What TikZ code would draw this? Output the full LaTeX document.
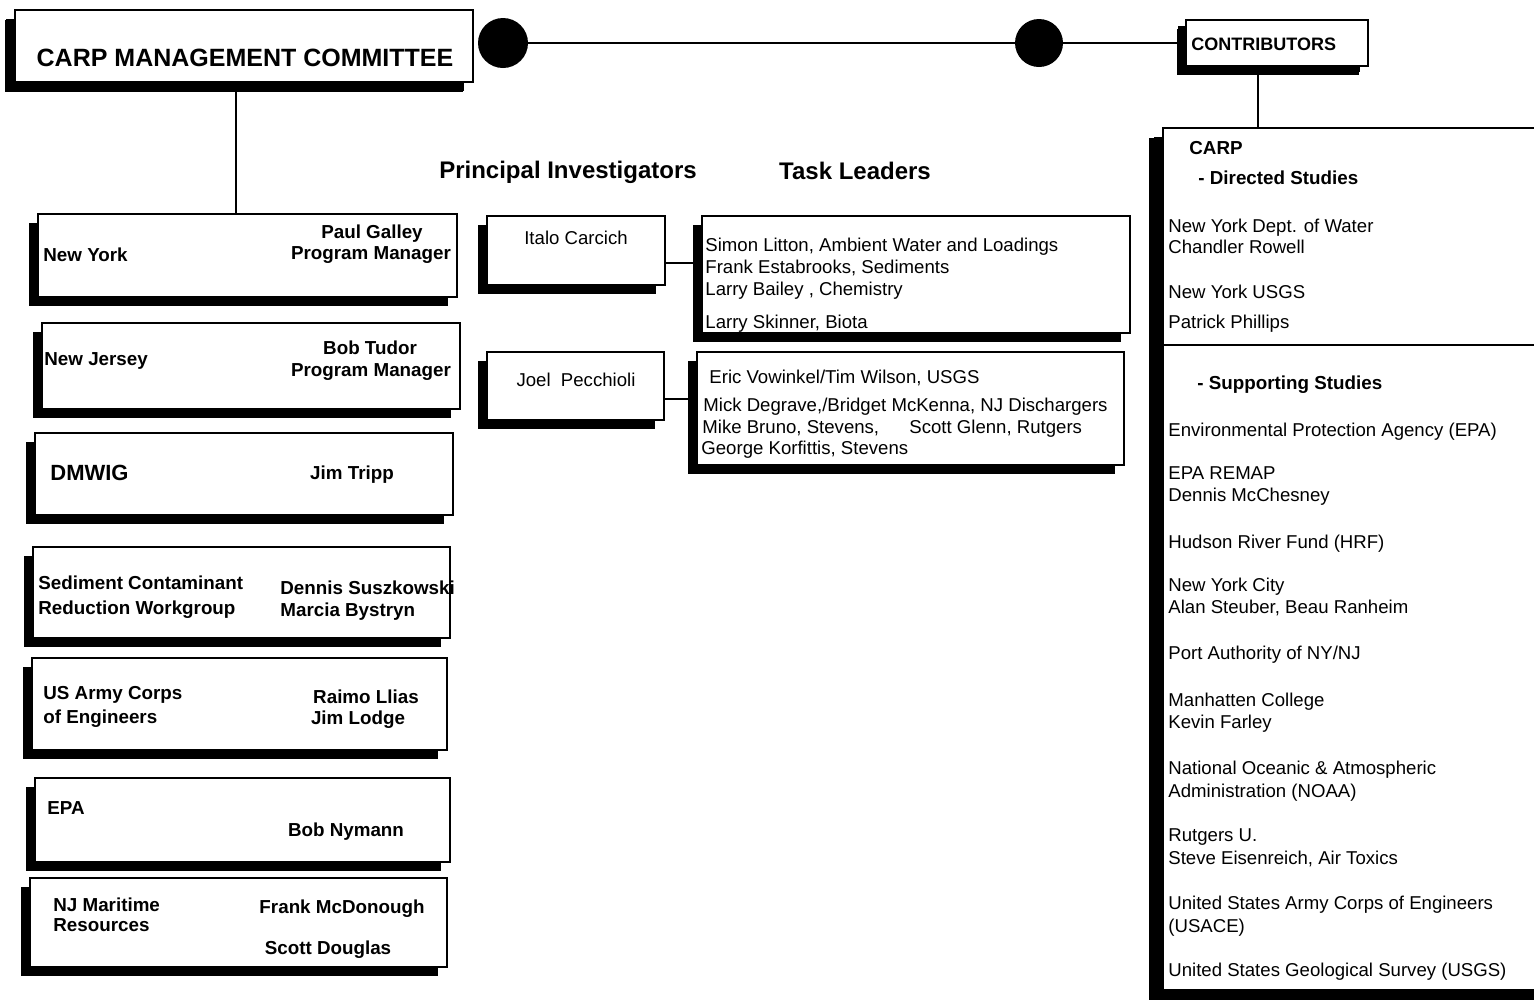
\documentclass[tikz,border=0pt]{standalone}
\usepackage{fontspec}
\setmainfont{Liberation Sans}
\usetikzlibrary{shapes,positioning,calc,shadows}

\begin{document}
\begin{tikzpicture}[x=0.5pt,y=-0.5pt,
  box/.style={draw,line width=0.8pt,fill=white,inner sep=0pt,
    drop shadow={shadow xshift=-4.5pt,shadow yshift=-4.5pt,fill=black,opacity=1}},
  txt/.style={inner sep=0pt,text height=6.7pt,text depth=0pt,font=\fontsize{9.3}{11}\selectfont},
  bt/.style={txt,font=\fontsize{9.4}{11}\selectfont\bfseries},
  hd/.style={inner sep=0pt,text height=8.6pt,text depth=0pt,font=\fontsize{12}{14}\selectfont\bfseries},
  dot/.style={circle,fill=black,inner sep=0pt},
  link/.style={line width=1pt}]
\clip (0,0) rectangle (1534,1003);
\fill[white] (0,0) rectangle (1534,1003);

% Top row: committee, contributors and the link between them
\node[box,minimum width=229pt,minimum height=36pt,
  drop shadow={shadow xshift=-5pt,shadow yshift=-5pt,fill=black,opacity=1}] (cmc) at (244,46) {};
\node[inner sep=0pt,text height=9pt,text depth=0pt,font=\fontsize{12.5}{15}\selectfont\bfseries] (cmcT) at (245,57) {CARP MANAGEMENT COMMITTEE};
\node[dot,minimum size=25pt] (c1) at (503,43) {};
\node[dot,minimum size=24pt] (c2) at (1039,43) {};
\node[box,minimum width=91pt,minimum height=23pt,
  drop shadow={shadow xshift=-4pt,shadow yshift=-3pt,fill=black,opacity=1}] (co) at (1277,43) {};
\node[txt,font=\fontsize{9}{11}\selectfont\bfseries,anchor=west] (coT) at (1191,44) {CONTRIBUTORS};
\draw[link] (c1) -- (c2) -- (co);

% Column headings
\node[hd] (hPI) at (568,170) {Principal Investigators};
\node[hd] (hTL) at (855,171) {Task Leaders};

% Left column: member agencies
\node[box,minimum width=209.5pt,minimum height=41.5pt] (ny) at (247.5,255.5) {};
\node[box,minimum width=209pt,minimum height=43pt] (nj) at (251,366) {};
\node[box,minimum width=209pt,minimum height=41pt] (dm) at (244,474) {};
\node[box,minimum width=208.5pt,minimum height=45.5pt] (sc) at (241.5,592.5) {};
\node[box,minimum width=207.5pt,minimum height=46pt] (us) at (239.5,704) {};
\node[box,minimum width=207.5pt,minimum height=42pt] (ep) at (242.5,820) {};
\node[box,minimum width=208.5pt,minimum height=44.5pt] (nm) at (238.5,922.5) {};
\draw[link] ([xshift=-4pt]cmc.south) -- ([xshift=-4pt]cmc.south |- ny.north);

\node[bt,anchor=west] (nyA) at (43,255) {New York};
\node[bt] (nyB) at (372,232) {Paul Galley};
\node[bt] (nyC) at (371,253) {Program Manager};
\node[bt,anchor=west] (njA) at (44,359) {New Jersey};
\node[bt] (njB) at (370,348) {Bob Tudor};
\node[bt] (njC) at (371,370) {Program Manager};
\node[bt,font=\fontsize{11}{13}\selectfont\bfseries,text height=7.9pt,anchor=west] (dmA) at (50,473) {DMWIG};
\node[bt] (dmB) at (352,473) {Jim Tripp};
\node[bt,anchor=west] (scA) at (38,583) {Sediment Contaminant};
\node[bt,anchor=west] (scB) at (38,608) {Reduction Workgroup};
\node[bt,anchor=west] (scC) at (280,588) {Dennis Suszkowski};
\node[bt,anchor=west] (scD) at (280,610) {Marcia Bystryn};
\node[bt,anchor=west] (usA) at (43,693) {US Army Corps};
\node[bt,anchor=west] (usB) at (43,717) {of Engineers};
\node[bt] (usC) at (366,697) {Raimo Llias};
\node[bt] (usD) at (358,718) {Jim Lodge};
\node[bt,anchor=west] (epA) at (47,808) {EPA};
\node[bt] (epB) at (346,830) {Bob Nymann};
\node[bt,anchor=west] (nmA) at (53,905) {NJ Maritime};
\node[bt,anchor=west] (nmB) at (53,925) {Resources};
\node[bt] (nmC) at (342,907) {Frank McDonough};
\node[bt] (nmD) at (328,948) {Scott Douglas};

% Middle: principal investigators and their task leaders
\node[box,minimum width=89pt,minimum height=34.5pt] (ic) at (576,250.5) {};
\node[box,minimum width=88.5pt,minimum height=34pt] (jp) at (575.5,386) {};
\node[box,minimum width=214pt,minimum height=58.5pt] (t1) at (916,274.5) {};
\node[box,minimum width=213.5pt,minimum height=56.5pt] (t2) at (910.5,408.5) {};
\node[txt] (icT) at (576,238) {Italo Carcich};
\node[txt] (jpT) at (576,380) {Joel~ Pecchioli};
\draw[link] ([yshift=-6.25pt]ic.east) -- ([yshift=-6.25pt]ic.east -| t1.west);
\draw[link] ([yshift=-6.5pt]jp.east) -- ([yshift=-6.5pt]jp.east -| t2.west);

\node[txt,anchor=west] (t1a) at (705,245) {Simon Litton, Ambient Water and Loadings};
\node[txt,anchor=west] (t1b) at (705,267) {Frank Estabrooks, Sediments};
\node[txt,anchor=west] (t1c) at (705,289) {Larry Bailey , Chemistry};
\node[txt,anchor=west] (t1d) at (705,322) {Larry Skinner, Biota};
\node[txt,anchor=west] (t2a) at (709,377) {Eric Vowinkel/Tim Wilson, USGS};
\node[txt,anchor=west] (t2b) at (703,405) {Mick Degrave,/Bridget McKenna, NJ Dischargers};
\node[txt,anchor=west] (t2c) at (702,427) {Mike Bruno, Stevens,};
\node[txt,anchor=west] (t2d) at (909,427) {Scott Glenn, Rutgers};
\node[txt,anchor=west] (t2e) at (701,448) {George Korfittis, Stevens};

% Right: contributors list
\node[box,minimum width=193.5pt,minimum height=431pt,
  drop shadow={shadow xshift=-7pt,shadow yshift=-5pt,fill=black,opacity=1}] (big) at (1356.5,559) {};
\draw[link] ([xshift=-9.5pt]co.south) -- ([xshift=-9.5pt]co.south |- big.north);
\draw[link] ([yshift=-109pt]big.north west) -- ([yshift=-109pt]big.north east);
\node[bt,anchor=west] (rCarp) at (1189,148) {CARP};
\node[bt,anchor=west] (rDir) at (1198,178) {- Directed Studies};
\node[bt,anchor=west] (rSup) at (1197,383) {- Supporting Studies};
\foreach \y/\t in {226/New York Dept. of Water, 247/Chandler Rowell, 292/New York USGS,
    322/Patrick Phillips, 430/Environmental Protection Agency (EPA), 473/EPA REMAP,
    495/Dennis McChesney, 542/Hudson River Fund (HRF), 585/New York City,
    607/{Alan Steuber, Beau Ranheim}, 653/{Port Authority of NY/NJ}, 700/Manhatten College,
    722/Kevin Farley, 768/National Oceanic \& Atmospheric, 791/Administration (NOAA),
    835/Rutgers U., 858/{Steve Eisenreich, Air Toxics}, 903/United States Army Corps of Engineers,
    926/(USACE), 970/United States Geological Survey (USGS)}
  \node[txt,anchor=west] (r\y) at (1168,\y) {\t};
\end{tikzpicture}
\end{document}
